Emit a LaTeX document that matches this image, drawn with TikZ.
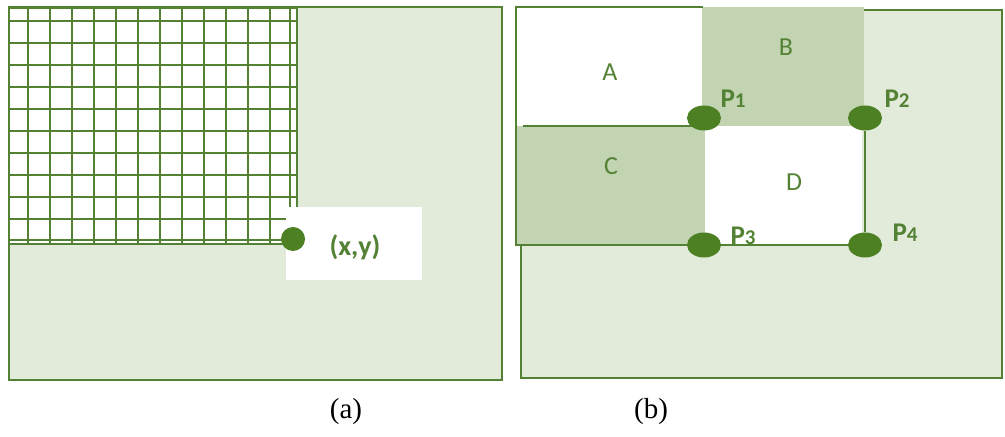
\documentclass[tikz,border=0pt]{standalone}
\usepackage{fontspec}
\setmainfont{Liberation Serif}
\newfontfamily\labelfont{Carlito}
\usetikzlibrary{shapes.geometric}

\definecolor{linegreen}{RGB}{84,130,53}
\definecolor{lightfill}{RGB}{226,235,218}
\definecolor{midfill}{RGB}{194,212,178}
\definecolor{dotgreen}{RGB}{77,128,35}

\begin{document}
\begin{tikzpicture}[x=0.5pt, y=-0.5pt,
	frame/.style={draw=linegreen, line width=1.1pt},
	gridline/.style={draw=linegreen, line width=1.4pt},
	griddot/.style={circle, fill=dotgreen, inner sep=0pt, minimum size=12pt},
	cornerdot/.style={ellipse, fill=dotgreen, inner sep=0pt, minimum width=17pt, minimum height=12.5pt},
	celltext/.style={text=linegreen, font=\labelfont\fontsize{13}{15}\selectfont},
	plabel/.style={text=linegreen, font=\labelfont\bfseries\fontsize{13.5}{15}\selectfont, inner sep=0pt},
	caption/.style={font=\fontsize{14.5}{17}\selectfont}]
	
	\useasboundingbox (0,0) rectangle (1005,437);
	
	% (a) Bild mit Gitter bis zum Punkt (x,y)
	\draw[frame, fill=lightfill] (9,7) rectangle (502,380);
	\fill[white] (9,8) rectangle (297,244);
	\foreach \x in {9,28,50,72,94,116,138,160,182,204,226,248,270,290,297} {
		\draw[gridline] (\x,8) -- (\x,244);
	}
	\foreach \y in {8,21,43,65,87,109,131,153,175,197,219,240,244} {
		\draw[gridline] (9,\y) -- (297,\y);
	}
	
	% Beschriftung (x,y)
	\fill[white] (286,207) rectangle (422,280);
	\node[griddot] (xy) at (293,239) {};
	\node[text=linegreen, font=\labelfont\bfseries\fontsize{14}{16}\selectfont] (xytext) at (355,247) {(x,y)};
	
	% (b) Integralbild mit vier Bereichen
	\draw[frame, fill=lightfill] (521,10) rectangle (1002,378);
	\fill[white] (516,7) rectangle (703,126);
	\fill[midfill] (702,7) rectangle (864,126);
	\fill[midfill] (516,126) rectangle (705,245);
	\fill[white] (705,126) rectangle (862,245);
	\draw[frame] (703,7) -- (516,7) -- (516,245) -- (705,245);
	\draw[frame] (523,126) -- (703,126);
	
	% Eckpunkte
	\node[cornerdot] (p1) at (704,118) {};
	\node[cornerdot] (p2) at (865,118) {};
	\node[cornerdot] (p3) at (704,245) {};
	\node[cornerdot] (p4) at (865,245) {};
	\draw[frame] (p3) -- (p4);
	\draw[frame] (p2) -- (p4);
	
	\node[plabel] (p1text) at (733,99) {P{\fontsize{10.5}{12}\selectfont 1}};
	\node[plabel] (p2text) at (897,99) {P{\fontsize{10.5}{12}\selectfont 2}};
	\node[plabel] (p3text) at (743,236) {P{\fontsize{10.5}{12}\selectfont 3}};
	\node[plabel] (p4text) at (905,233) {P{\fontsize{10.5}{12}\selectfont 4}};
	
	% Bereiche
	\node[celltext] (A) at (610,72) {A};
	\node[celltext] (B) at (786,47) {B};
	\node[celltext] (C) at (611,166) {C};
	\node[celltext] (D) at (794,182) {D};
	
	% Unterschriften
	\node[caption] (capa) at (346,412) {(a)};
	\node[caption] (capb) at (651,412) {(b)};
	
\end{tikzpicture}
\end{document}
